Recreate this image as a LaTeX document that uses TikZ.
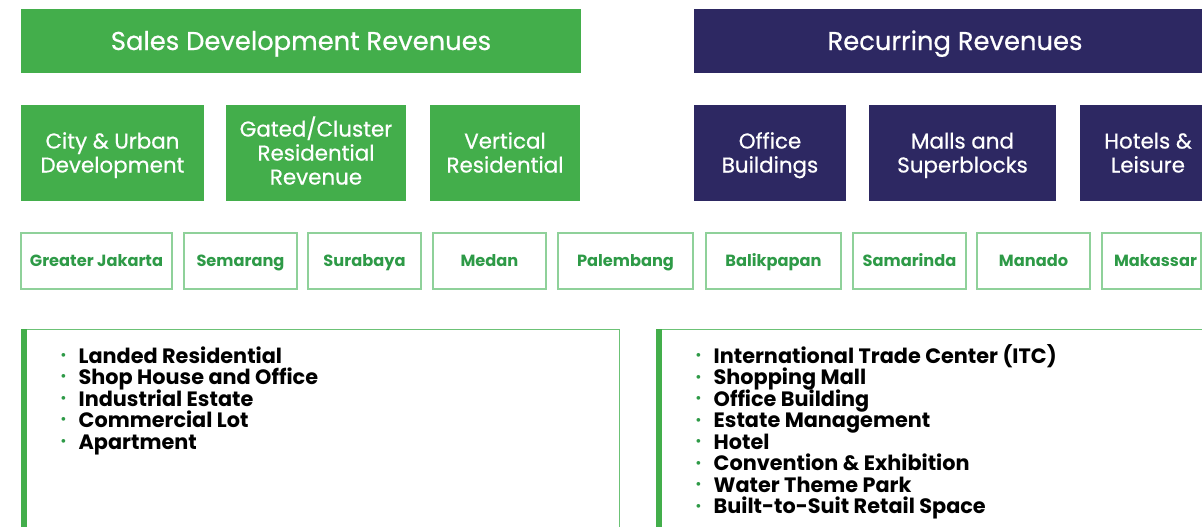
\documentclass[tikz,border=0pt]{standalone}
\usepackage{fontspec}
\setmainfont{Poppins}
\newfontfamily\medfont{Poppins}[FakeBold=0.6]
\usetikzlibrary{positioning, calc}
\definecolor{salesgreen}{HTML}{43AE4B}
\definecolor{recnavy}{HTML}{2D2862}
\definecolor{cityline}{HTML}{8FD19A}
\definecolor{citytext}{HTML}{2E9A47}
\definecolor{panelline}{HTML}{6CC276}
\newcommand{\itemdot}{{\color{citytext}\raisebox{1.9pt}{\scalebox{0.6}{\textbullet}}}\hspace{6pt}}
\newcommand{\itemfont}{\bfseries\fontsize{10.4}{10.75}\selectfont\lineskiplimit=-20pt\relax}
\newcommand{\segtop}{\rule{0pt}{11.1pt}}

\begin{document}
\begin{tikzpicture}[
        x=0.5pt, y=-0.5pt,
        hdr/.style={minimum height=32pt, inner sep=0pt, outer sep=0pt, text=white, text height=9pt, text depth=0pt, font=\medfont\fontsize{12.9}{14}\selectfont},
        seg/.style={minimum height=48pt, inner sep=0pt, outer sep=0pt, text=white, align=center, font=\medfont\fontsize{10.7}{12}\selectfont},
        city/.style={draw=cityline, line width=0.6pt, minimum height=28pt, inner sep=0pt, outer sep=0pt, text=citytext, text height=5.7pt, text depth=0pt, font=\bfseries\fontsize{8.1}{10}\selectfont},
        panel/.style={draw=panelline, line width=0.5pt, minimum height=115pt, anchor=north west, inner sep=0pt},
        items/.style={align=left, anchor=north west, inner sep=0pt, font=\itemfont}
    ]
        \useasboundingbox (0,0) rectangle (1202,526);
        \clip (0,0) rectangle (1202,526);

        % revenue groups
        \node[hdr, fill=salesgreen, minimum width=280pt, anchor=west] (salesHdr) at (21,41) {Sales Development Revenues};
        \node[hdr, fill=recnavy, minimum width=261pt, anchor=west] (recHdr) at (694,41) {Recurring Revenues};

        % segments
        \node[seg, fill=salesgreen, minimum width=91.5pt, below=16pt of salesHdr.south west, anchor=north west] (urban) {\segtop City \& Urban\\Development\strut};
        \node[seg, fill=salesgreen, minimum width=90pt, right=11pt of urban] (gated) {\segtop Gated/Cluster\\Residential\\Revenue\strut};
        \node[seg, fill=salesgreen, minimum width=75pt, right=12pt of gated] (vertical) {\segtop Vertical\\Residential\strut};
        \node[seg, fill=recnavy, minimum width=76pt, below=16pt of recHdr.south west, anchor=north west] (office) {\segtop Office\\Buildings\strut};
        \node[seg, fill=recnavy, minimum width=93.5pt, right=11.5pt of office] (malls) {\segtop Malls and\\Superblocks\strut};
        \node[seg, fill=recnavy, minimum width=68pt, right=12pt of malls] (hotels) {\segtop Hotels \&\\Leisure\strut};

        % cities
        \node[city, minimum width=75.5pt, below=16pt of urban.south west, anchor=north west] (jakarta) {Greater Jakarta};
        \node[city, minimum width=56.5pt, right=6pt of jakarta] (semarang) {Semarang};
        \node[city, minimum width=56.5pt, right=5.5pt of semarang] (surabaya) {Surabaya};
        \node[city, minimum width=56.5pt, right=6pt of surabaya] (medan) {Medan};
        \node[city, minimum width=67.5pt, right=6pt of medan] (palembang) {Palembang};
        \node[city, minimum width=67.5pt, right=6.5pt of palembang] (balikpapan) {Balikpapan};
        \node[city, minimum width=56.5pt, right=6pt of balikpapan] (samarinda) {Samarinda};
        \node[city, minimum width=56.5pt, right=5.5pt of samarinda] (manado) {Manado};
        \node[city, minimum width=49.5pt, right=6pt of manado] (makassar) {\hspace{4pt}Makassar};

        % business lines
        \node[panel, minimum width=299pt] (devPanel) at (21,329) {};
        \node[panel, minimum width=300pt] (recPanel) at (656,329) {};
        \fill[salesgreen] (devPanel.north west) rectangle ++(5.5,215);
        \fill[salesgreen] (recPanel.north west) rectangle ++(6,215);

        \node[items] (devItems) at ($(devPanel.north west)+(39,17)$) {\itemdot Landed Residential\\\itemdot Shop House and Office\\\itemdot Industrial Estate\\\itemdot Commercial Lot\\\itemdot Apartment};
        \node[items] (recItems) at ($(recPanel.north west)+(39,15)$) {\itemdot International Trade Center (ITC)\\\itemdot Shopping Mall\\\itemdot Office Building\\\itemdot Estate Management\\\itemdot Hotel\\\itemdot Convention \& Exhibition\\\itemdot Water Theme Park\\\itemdot Built-to-Suit Retail Space};
    \end{tikzpicture}
\end{document}
